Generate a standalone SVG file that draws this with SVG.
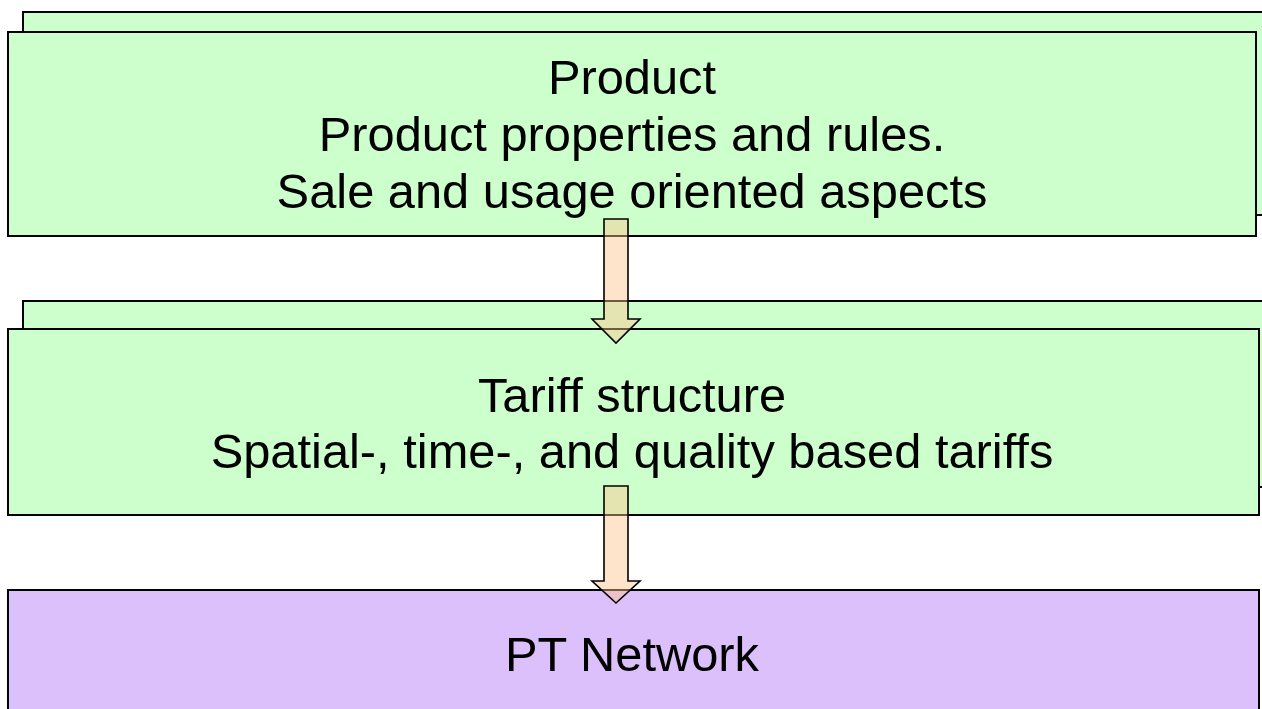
<svg xmlns="http://www.w3.org/2000/svg" width="1262" height="709" viewBox="0 0 1262 709">
  <style>
    .green { fill: #ccffcc; stroke: #000; stroke-width: 2; }
    .purple { fill: #dcc0fb; stroke: #000; stroke-width: 2; }
    .label { font-family: "Liberation Sans", Arial, sans-serif; font-size: 48.8px; fill: #000; text-anchor: middle; }
    .flow { fill: #ffc38e; fill-opacity: 0.45; stroke: #000; stroke-width: 1.6; stroke-linejoin: miter; }
  </style>

  <!-- Product layer: stacked sheets -->
  <g id="product">
    <rect class="green" x="23" y="12" width="1260" height="203"/>
    <rect class="green" x="8" y="32" width="1248" height="204"/>
    <text class="label" x="632" y="94">Product</text>
    <text class="label" x="632" y="151">Product properties and rules.</text>
    <text class="label" x="632" y="208">Sale and usage oriented aspects</text>
  </g>

  <!-- Tariff layer: stacked sheets -->
  <g id="tariff">
    <rect class="green" x="23" y="301" width="1260" height="186"/>
    <rect class="green" x="8" y="329" width="1251" height="186"/>
    <text class="label" x="632" y="412">Tariff structure</text>
    <text class="label" x="632" y="468">Spatial-, time-, and quality based tariffs</text>
  </g>

  <!-- Network layer -->
  <g id="network">
    <rect class="purple" x="8" y="590" width="1251" height="140"/>
    <text class="label" x="632" y="671">PT Network</text>
  </g>

  <!-- Block arrows between layers -->
  <g id="connectors">
    <path class="flow" d="M604 219 H628 V319 H640 L616 343 L592 319 H604 Z"/>
    <path class="flow" d="M604 486 H628 V581 H640 L616 603 L592 581 H604 Z"/>
  </g>
</svg>
